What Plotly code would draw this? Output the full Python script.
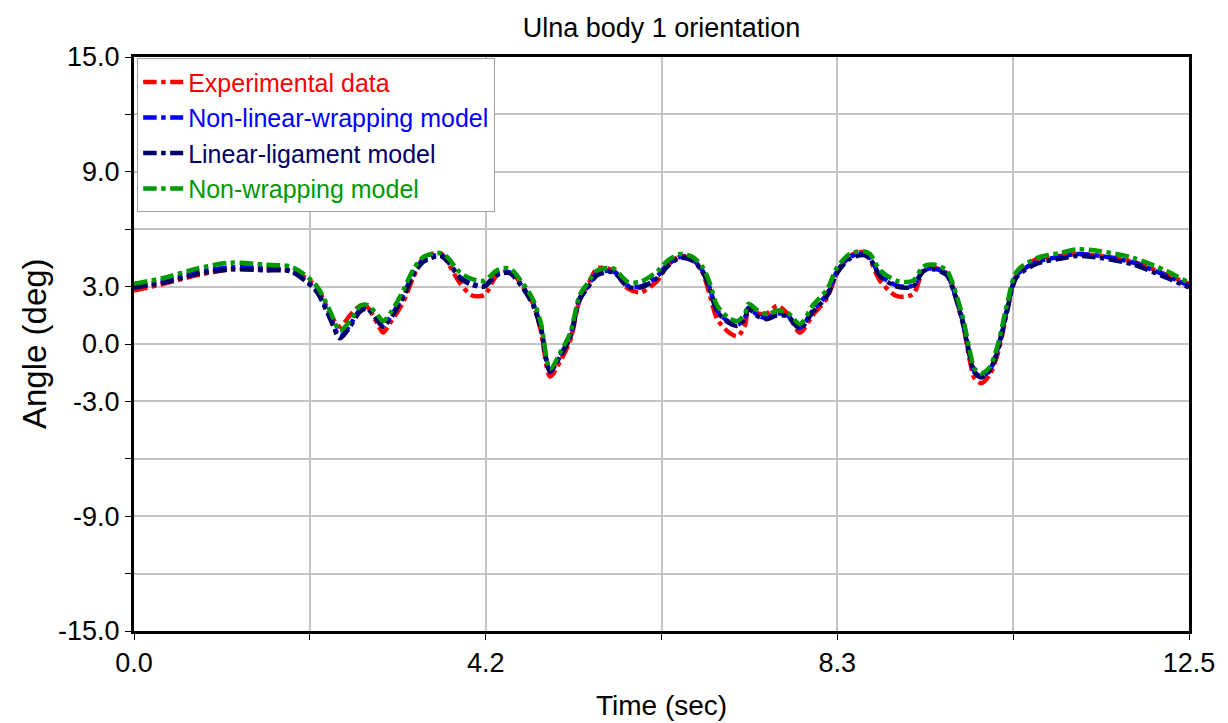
import plotly.graph_objects as go

# Time samples (sec) and angle readings (deg) for each series
time_s = [0.0, 0.35, 0.75, 1.15, 1.55, 1.85, 2.0, 2.17, 2.32, 2.44,
          2.56, 2.68, 2.76, 2.88, 2.95, 3.05, 3.19, 3.31, 3.43, 3.63,
          3.71, 3.86, 4.0, 4.15, 4.3, 4.45, 4.61, 4.73, 4.82, 4.93,
          5.05, 5.17, 5.28, 5.37, 5.49, 5.68, 5.85, 6.0, 6.2, 6.32,
          6.47, 6.62, 6.74, 6.82, 6.91, 7.05, 7.15, 7.24, 7.28, 7.39,
          7.5, 7.62, 7.74, 7.89, 8.04, 8.21, 8.33, 8.48, 8.64, 8.72,
          8.84, 9.04, 9.23, 9.35, 9.47, 9.63, 9.7, 9.82, 9.9, 9.96,
          10.04, 10.14, 10.24, 10.34, 10.46, 10.7, 10.97, 11.17, 11.45, 11.84,
          12.24, 12.5]

experimental = [2.8, 3.15, 3.6, 3.9, 3.9, 3.85, 3.55, 2.95, 1.6, 0.9,
                1.5, 2.0, 1.95, 1.1, 0.6, 1.2, 2.2, 3.5, 4.5, 4.75,
                4.3, 3.2, 2.55, 2.55, 3.6, 3.8, 3.0, 2.1, 0.7, -1.7,
                -0.9, 0.2, 2.3, 3.0, 3.95, 3.85, 2.9, 2.7, 3.3, 4.1,
                4.6, 4.45, 3.7, 2.6, 1.3, 0.6, 0.4, 1.0, 1.8, 1.6,
                1.6, 2.0, 1.6, 0.6, 1.5, 2.4, 3.7, 4.6, 4.8, 4.4,
                3.3, 2.5, 2.6, 3.8, 4.0, 3.7, 3.0, 1.1, -0.8, -1.8,
                -2.05, -1.6, -0.4, 1.6, 3.6, 4.45, 4.6, 4.7, 4.6, 4.3,
                3.6, 3.15]

nonlinear_wrapping = [3.0, 3.3, 3.75, 4.0, 3.95, 3.85, 3.45, 2.75, 1.45, 0.4,
                      1.0, 1.8, 1.9, 1.3, 0.95, 1.5, 2.55, 3.7, 4.4, 4.65,
                      4.4, 3.5, 3.15, 3.05, 3.65, 3.75, 2.95, 2.1, 0.9, -1.45,
                      -0.6, 0.45, 2.4, 2.95, 3.7, 3.8, 3.05, 3.0, 3.55, 4.15,
                      4.55, 4.4, 3.8, 2.95, 1.75, 1.15, 1.0, 1.4, 1.9, 1.5,
                      1.35, 1.6, 1.5, 0.85, 1.75, 2.6, 3.8, 4.55, 4.7, 4.5,
                      3.6, 3.05, 3.05, 3.85, 3.95, 3.65, 2.95, 1.2, -0.5, -1.45,
                      -1.7, -1.35, -0.15, 1.75, 3.6, 4.3, 4.55, 4.7, 4.6, 4.25,
                      3.55, 3.05]

linear_ligament = [2.95, 3.2, 3.65, 3.9, 3.85, 3.8, 3.4, 2.7, 1.35, 0.3,
                   0.9, 1.7, 1.85, 1.25, 0.9, 1.4, 2.45, 3.6, 4.3, 4.6,
                   4.35, 3.45, 3.1, 3.0, 3.6, 3.7, 2.9, 2.0, 0.8, -1.4,
                   -0.65, 0.35, 2.3, 2.9, 3.6, 3.75, 3.0, 2.95, 3.45, 4.05,
                   4.5, 4.35, 3.75, 2.9, 1.7, 1.1, 0.95, 1.35, 1.85, 1.45,
                   1.3, 1.5, 1.45, 0.8, 1.65, 2.5, 3.7, 4.45, 4.65, 4.45,
                   3.55, 3.0, 3.0, 3.8, 3.9, 3.6, 2.9, 1.1, -0.6, -1.5,
                   -1.75, -1.4, -0.25, 1.65, 3.5, 4.2, 4.45, 4.6, 4.5, 4.15,
                   3.45, 2.95]

non_wrapping = [3.15, 3.45, 3.95, 4.25, 4.15, 4.05, 3.7, 3.0, 1.75, 0.7,
                1.2, 2.0, 2.05, 1.55, 1.2, 1.7, 2.8, 3.9, 4.55, 4.75,
                4.55, 3.75, 3.4, 3.3, 3.85, 3.95, 3.15, 2.3, 1.1, -1.3,
                -0.45, 0.6, 2.55, 3.15, 3.85, 3.95, 3.25, 3.25, 3.8, 4.35,
                4.7, 4.55, 4.0, 3.2, 2.0, 1.35, 1.2, 1.6, 2.1, 1.75,
                1.55, 1.75, 1.65, 1.05, 2.0, 2.85, 4.0, 4.7, 4.85, 4.7,
                3.85, 3.3, 3.3, 4.05, 4.15, 3.85, 3.15, 1.4, -0.3, -1.3,
                -1.55, -1.2, 0.05, 2.0, 3.8, 4.5, 4.75, 4.95, 4.85, 4.5,
                3.8, 3.2]

series_names = ["Experimental data", "Non-linear-wrapping model",
                "Linear-ligament model", "Non-wrapping model"]
series_values = [experimental, nonlinear_wrapping, linear_ligament, non_wrapping]
series_colors = ["#ff0000", "#0000ff", "#000066", "#009900"]

x_tick_vals = [0.0, 12.5 / 6, 12.5 / 3, 6.25, 12.5 * 2 / 3, 12.5 * 5 / 6, 12.5]
x_tick_text = ["0.0", "", "4.2", "", "8.3", "", "12.5"]
y_tick_vals = [-15, -12, -9, -6, -3, 0, 3, 6, 9, 12, 15]
y_tick_text = ["-15.0", "", "-9.0", "", "-3.0", "0.0", "3.0", "", "9.0", "", "15.0"]

FONT = "Liberation Sans, Arial, sans-serif"

fig = go.Figure()
for name, vals, color in zip(series_names, series_values, series_colors):
    fig.add_trace(go.Scatter(
        x=time_s, y=vals, mode="lines",
        name=f"<span style='color:{color}'>{name}</span>",
        line=dict(color=color, width=4.5, dash="dashdot", shape="spline", smoothing=0.8),
    ))

fig.update_layout(
    width=1228, height=723,
    paper_bgcolor="white", plot_bgcolor="white",
    margin=dict(l=134, r=39, t=57, b=92),
    font=dict(family=FONT, size=27, color="black"),
    title=dict(text="Ulna body 1 orientation", x=0.5, xref="paper",
               y=0.962, yanchor="middle", font=dict(size=27)),
    showlegend=True,
    legend=dict(x=0.003, y=0.998, xanchor="left", yanchor="top",
                bgcolor="white", bordercolor="#a0a0a0", borderwidth=1,
                font=dict(size=25), tracegroupgap=0, itemwidth=40),
    xaxis=dict(range=[0, 12.5], tickvals=x_tick_vals, ticktext=x_tick_text,
               showgrid=True, gridcolor="#c4c4c4", gridwidth=1.5,
               showline=True, linecolor="black", linewidth=3, mirror=True,
               ticks="outside", ticklen=6, tickcolor="black", tickwidth=1,
               zeroline=False, tickfont=dict(size=27)),
    yaxis=dict(range=[-15, 15], tickvals=y_tick_vals, ticktext=y_tick_text,
               showgrid=True, gridcolor="#c4c4c4", gridwidth=1.5,
               showline=True, linecolor="black", linewidth=3, mirror=True,
               ticks="outside", ticklen=6, tickcolor="black", tickwidth=1,
               zeroline=False, tickfont=dict(size=27)),
    annotations=[
        dict(text="Time (sec)", xref="paper", yref="paper", x=0.5, y=0,
             xanchor="center", yanchor="middle", yshift=-74, showarrow=False,
             font=dict(size=28)),
        dict(text="Angle (deg)", xref="paper", yref="paper", x=0, y=0.5,
             xanchor="center", yanchor="middle", xshift=-100, textangle=-90,
             showarrow=False, font=dict(size=33)),
    ],
)

fig.write_html("out.html")
